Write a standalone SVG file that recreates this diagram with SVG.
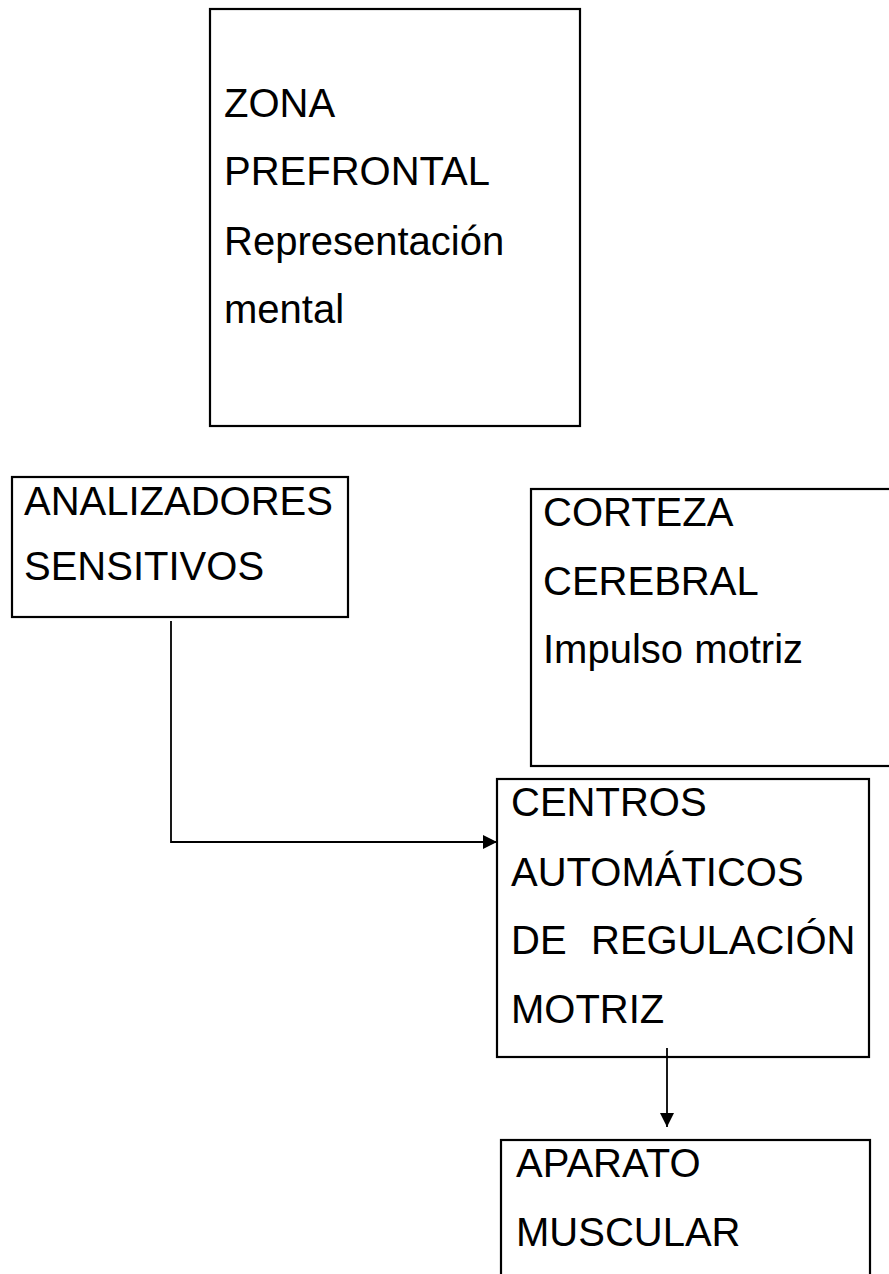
<svg xmlns="http://www.w3.org/2000/svg" width="889" height="1274" viewBox="0 0 889 1274">
<style>
.box{fill:#fff;stroke:#000;stroke-width:2.2}
.t{font-family:"Liberation Sans",Arial,sans-serif;font-size:40px;fill:#000}
.c{fill:none;stroke:#000;stroke-width:1.8}
</style>
<defs>
<marker id="ah" markerWidth="14" markerHeight="14" refX="14" refY="7" orient="auto" markerUnits="userSpaceOnUse" viewBox="0 0 14 14">
<path d="M0,0 L14,7 L0,14 Z" fill="#000"/>
</marker>
</defs>
<rect width="889" height="1274" fill="#fff"/>
<g id="zona">
<rect class="box" x="210" y="9" width="370" height="417"/>
<text class="t" x="224" y="117">ZONA</text>
<text class="t" x="224" y="185">PREFRONTAL</text>
<text class="t" x="224" y="255">Representación</text>
<text class="t" x="224" y="323">mental</text>
</g>
<g id="analizadores">
<rect class="box" x="12" y="477" width="336" height="140"/>
<text class="t" x="24" y="515">ANALIZADORES</text>
<text class="t" x="24" y="580">SENSITIVOS</text>
</g>
<g id="corteza">
<rect class="box" x="531" y="489" width="380" height="277"/>
<text class="t" x="543" y="526">CORTEZA</text>
<text class="t" x="543" y="595">CEREBRAL</text>
<text class="t" x="543" y="663">Impulso motriz</text>
</g>
<g id="centros">
<rect class="box" x="497" y="779" width="372" height="278"/>
<text class="t" x="511" y="816">CENTROS</text>
<text class="t" x="511" y="886">AUTOMÁTICOS</text>
<text class="t" x="511" y="954">DE</text>
<text class="t" x="591" y="954">REGULACIÓN</text>
<text class="t" x="511" y="1023">MOTRIZ</text>
</g>
<g id="aparato">
<rect class="box" x="501" y="1140" width="369" height="160"/>
<text class="t" x="516" y="1177">APARATO</text>
<text class="t" x="516" y="1246">MUSCULAR</text>
</g>
<g id="connectors">
<path class="c" d="M171,621 V842 H497" marker-end="url(#ah)"/>
<path class="c" d="M667,1048 V1127" marker-end="url(#ah)"/>
</g>
</svg>
